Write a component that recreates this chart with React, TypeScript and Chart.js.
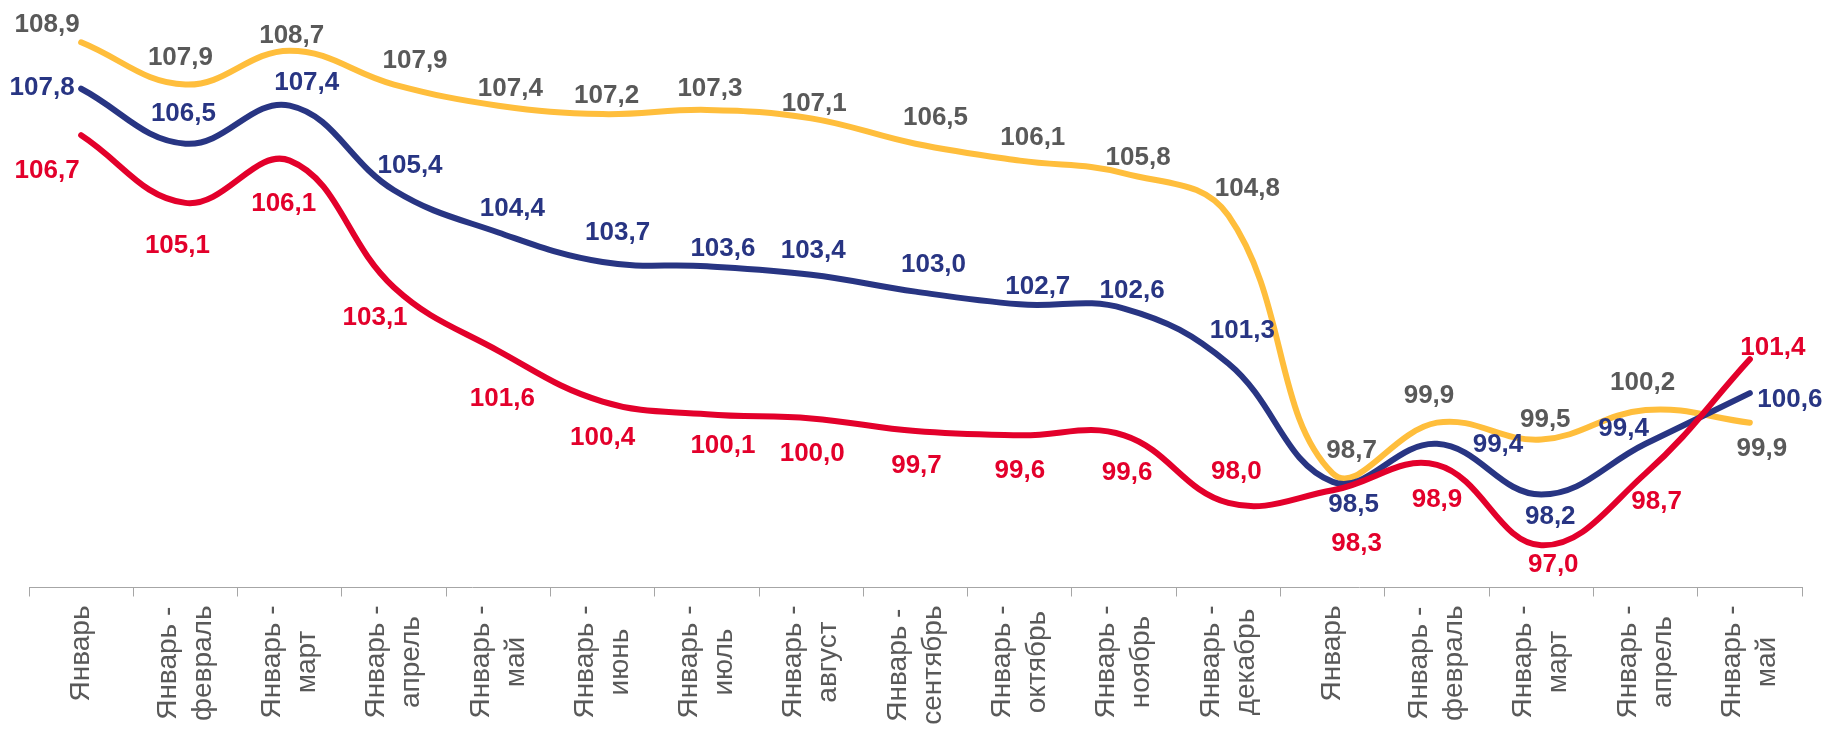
import React, { useEffect, useRef } from "react";
import { Chart, registerables } from "chart.js";

Chart.register(...registerables);

const CATEGORIES = [
  "Январь",
  "Январь - февраль",
  "Январь - март",
  "Январь - апрель",
  "Январь - май",
  "Январь - июнь",
  "Январь - июль",
  "Январь - август",
  "Январь - сентябрь",
  "Январь - октябрь",
  "Январь - ноябрь",
  "Январь - декабрь",
  "Январь",
  "Январь - февраль",
  "Январь - март",
  "Январь - апрель",
  "Январь - май",
];

const SERIES_YELLOW = [108.9, 107.9, 108.7, 107.9, 107.4, 107.2, 107.3, 107.1, 106.5, 106.1, 105.8, 104.8, 98.7, 99.9, 99.5, 100.2, 99.9];
const SERIES_NAVY = [107.8, 106.5, 107.4, 105.4, 104.4, 103.7, 103.6, 103.4, 103.0, 102.7, 102.6, 101.3, 98.5, 99.4, 98.2, 99.4, 100.6];
const SERIES_RED = [106.7, 105.1, 106.1, 103.1, 101.6, 100.4, 100.1, 100.0, 99.7, 99.6, 99.6, 98.0, 98.3, 98.9, 97.0, 98.7, 101.4];

// label placement (offset of label centre from its point, px)
const YELLOW_LABEL_OFFSETS = [[-34, -17], [-5, -27], [2, -15], [21, -24], [12, -17], [4, -18], [3, -21], [3, -15], [20, -26], [13, -23], [14, -15], [19, -27], [19, -23], [-8, -27], [4, -20], [-3, -27], [12, 26]];
const NAVY_LABEL_OFFSETS = [[-39, -1], [-2, -30], [17, -23], [16, -24], [14, -24], [15, -29], [16, -17], [2, -24], [18, -27], [18, -17], [8, -18], [14, -33], [21, 23], [61, 1], [9, 22], [-22, -15], [40, 7]];
const RED_LABEL_OFFSETS = [[-34, 36], [-8, 43], [-6, 43], [-19, 30], [4, 48], [0, 36], [16, 32], [1, 35], [1, 35], [0, 35], [3, 37], [8, -31], [24, 54], [0, 35], [12, 20], [11, 28], [23, -11]];

const Y_MIN = 96;
const Y_MAX = 109.9;

const YELLOW = "#FFBE3C";
const NAVY = "#283583";
const RED = "#E3002B";
const GRAY_TEXT = "#595959";
const AXIS_GRAY = "#A6A6A6";

const FONT_FAMILY = "'Liberation Sans', Arial, sans-serif";

function fmt(v: number): string {
  return v.toFixed(1).replace(".", ",");
}

function splitLabel(s: string): string[] {
  const idx = s.indexOf(" - ");
  if (idx < 0) return [s];
  return [s.slice(0, idx) + " -", s.slice(idx + 3)];
}

const dataLabelPlugin = {
  id: "customDataLabels",
  afterDraw(chart: any) {
    const ctx = chart.ctx;
    ctx.save();
    ctx.font = `bold 26px ${FONT_FAMILY}`;
    ctx.textAlign = "center";
    ctx.textBaseline = "middle";
    chart.data.datasets.forEach((ds: any, di: number) => {
      const meta = chart.getDatasetMeta(di);
      const offsets = ds.labelOffsets as number[][];
      meta.data.forEach((pt: any, i: number) => {
        const v = ds.data[i];
        const off = offsets[i] || [0, -25];
        ctx.fillStyle = ds.labelColor;
        ctx.fillText(fmt(v), pt.x + off[0], pt.y + off[1]);
      });
    });
    ctx.restore();
  },
};

const xLabelPlugin = {
  id: "customXLabels",
  afterDraw(chart: any) {
    const ctx = chart.ctx;
    const xScale = chart.scales.x;
    const axisY = chart.chartArea.bottom;
    ctx.save();
    ctx.font = `28px ${FONT_FAMILY}`;
    ctx.fillStyle = GRAY_TEXT;
    ctx.textAlign = "center";
    ctx.textBaseline = "middle";
    const lineHeight = 35;
    CATEGORIES.forEach((cat, i) => {
      const lines = splitLabel(cat);
      const cx = xScale.getPixelForValue(i);
      const w = Math.max(...lines.map((l) => ctx.measureText(l).width));
      const cy = axisY + 18 + w / 2;
      lines.forEach((line, j) => {
        const x = cx + (j - (lines.length - 1) / 2) * lineHeight;
        ctx.save();
        ctx.translate(x, cy);
        ctx.rotate(-Math.PI / 2);
        ctx.fillText(line, 0, 0);
        ctx.restore();
      });
    });
    ctx.restore();
  },
};

export default function App() {
  const canvasRef = useRef<HTMLCanvasElement | null>(null);

  useEffect(() => {
    document.body.style.margin = "0";
    const canvas = canvasRef.current;
    if (!canvas) return;
    const chart = new Chart(canvas, {
      type: "line",
      data: {
        labels: CATEGORIES,
        datasets: [
          {
            label: "red",
            data: SERIES_RED,
            borderColor: RED,
            labelColor: RED,
            labelOffsets: RED_LABEL_OFFSETS,
          } as any,
          {
            label: "navy",
            data: SERIES_NAVY,
            borderColor: NAVY,
            labelColor: NAVY,
            labelOffsets: NAVY_LABEL_OFFSETS,
          } as any,
          {
            label: "yellow",
            data: SERIES_YELLOW,
            borderColor: YELLOW,
            labelColor: GRAY_TEXT,
            labelOffsets: YELLOW_LABEL_OFFSETS,
          } as any,
        ],
      },
      options: {
        animation: false,
        responsive: true,
        maintainAspectRatio: false,
        layout: { padding: { left: 29, right: 26, top: 0, bottom: 133.5 } },
        elements: {
          line: {
            borderWidth: 6,
            tension: 0.4,
            borderCapStyle: "round",
            borderJoinStyle: "round",
            fill: false,
          },
          point: { radius: 0, hoverRadius: 0 },
        },
        plugins: {
          legend: { display: false },
          tooltip: { enabled: false },
        },
        scales: {
          x: {
            offset: true,
            grid: {
              display: true,
              offset: true,
              drawOnChartArea: false,
              drawTicks: true,
              tickLength: 9,
              color: AXIS_GRAY,
              lineWidth: 1,
            },
            border: { display: true, color: AXIS_GRAY, width: 1 },
            ticks: { display: false },
          },
          y: {
            display: false,
            min: Y_MIN,
            max: Y_MAX,
          },
        },
      },
      plugins: [dataLabelPlugin, xLabelPlugin],
    });
    return () => chart.destroy();
  }, []);

  return (
    <div style={{ width: "1828px", height: "730px", position: "relative" }}>
      <canvas ref={canvasRef} />
    </div>
  );
}
